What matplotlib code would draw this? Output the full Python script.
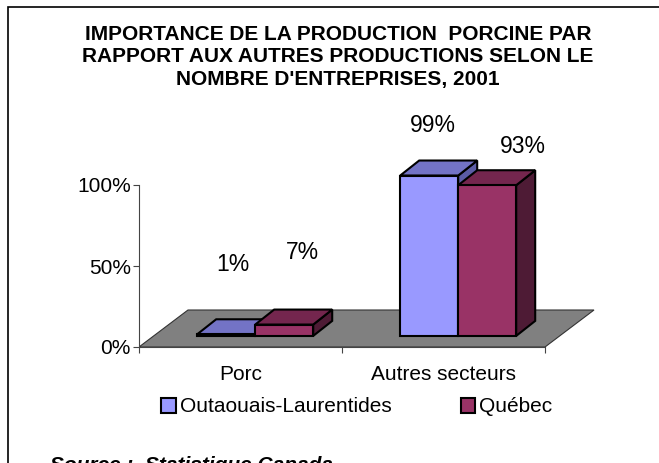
import matplotlib
matplotlib.use("Agg")
import matplotlib.pyplot as plt
from matplotlib.patches import Polygon, Rectangle, Patch

plt.rcParams['font.family'] = ['Liberation Sans', 'DejaVu Sans']

# Données
categories = ["Porc", "Autres secteurs"]
series = ["Outaouais-Laurentides", "Québec"]
outaouais = [1, 99]
quebec = [7, 93]
titre = ["IMPORTANCE DE LA PRODUCTION  PORCINE PAR",
         "RAPPORT AUX AUTRES PRODUCTIONS SELON LE",
         "NOMBRE D'ENTREPRISES, 2001"]
source = "Source :  Statistique Canada"

# Couleurs (face avant, dessus, côté)
couleurs = {
    "Outaouais-Laurentides": ("#9999FF", "#7373C6", "#5C5CA6"),
    "Québec": ("#993366", "#74264E", "#4E1B35"),
}

W, H = 659, 463
fig = plt.figure(figsize=(W / 100, H / 100), dpi=100)

# cadre du graphique (bords haut et gauche visibles)
fig.patches.append(Rectangle((8 / W, -0.1), 1.2, (H - 7) / H + 0.1, transform=fig.transFigure,
                             fill=False, edgecolor="black", linewidth=1.2))

# axes placés en pixels
px_x = 203.0   # pixels par catégorie
px_y = 1.62    # pixels par %
left, right, bottom, top = 139, 620, 347, 100
ax = fig.add_axes([left / W, (H - bottom) / H, (right - left) / W, (bottom - top) / H])
ax.set_xlim(0, (right - left) / px_x)
ax.set_ylim(0, (bottom - top) / px_y)
ax.patch.set_alpha(0)

# profondeur du plancher et des barres
fdx, fdy = 49 / px_x, 37 / px_y
bdx, bdy = 19 / px_x, 15 / px_y
f0 = 0.30
ox, oy = f0 * fdx, f0 * fdy
w = 58 / px_x

n = len(categories)
floor = Polygon([(0, 0), (n, 0), (n + fdx, fdy), (fdx, fdy)], closed=True,
                facecolor="#808080", edgecolor="#333333", linewidth=0.8, zorder=1)
ax.add_patch(floor)

# décalages des étiquettes (pixels) par rapport au dessus des barres
label_shift = {
    ("Outaouais-Laurentides", 0): (-2.5, 62), ("Québec", 0): (9, 65),
    ("Outaouais-Laurentides", 1): (-5.5, 43), ("Québec", 1): (26, 31),
}

z = 2
for i, cat in enumerate(categories):
    for j, (nom, vals) in enumerate(zip(series, [outaouais, quebec])):
        v = vals[i]
        x0 = i + 0.5 - w + j * w + ox
        front, topc, side = couleurs[nom]
        b = oy
        ax.add_patch(Polygon([(x0 + w, b), (x0 + w + bdx, b + bdy), (x0 + w + bdx, b + v + bdy), (x0 + w, b + v)],
                             closed=True, facecolor=side, edgecolor="black", linewidth=1.5, zorder=z))
        ax.add_patch(Polygon([(x0, b + v), (x0 + w, b + v), (x0 + w + bdx, b + v + bdy), (x0 + bdx, b + v + bdy)],
                             closed=True, facecolor=topc, edgecolor="black", linewidth=1.5, zorder=z + 1))
        ax.bar(x0, v, width=w, bottom=b, align="edge", color=front, edgecolor="black",
               linewidth=1.5, zorder=z + 2)
        z += 3
        sx, sy = label_shift[(nom, i)]
        ax.annotate(f"{v}%", xy=(x0 + w / 2 + bdx / 2, b + v + bdy / 2),
                    xytext=(sx * 0.72, sy * 0.72), textcoords="offset points",
                    ha="center", va="center", fontsize=16.5, zorder=50)

# axes
for s in ["top", "right"]:
    ax.spines[s].set_visible(False)
ax.spines["left"].set_bounds(0, 100)
ax.spines["bottom"].set_bounds(0, n)
ax.spines["left"].set_color("#444444")
ax.spines["bottom"].set_color("#444444")
ax.set_yticks([0, 50, 100])
ax.set_yticklabels(["0%", "50%", "100%"], fontsize=15)
ax.tick_params(axis="y", length=4, width=0.8, color="#444444", pad=2)
ax.set_xticks(range(n + 1))
ax.set_xticklabels([""] * (n + 1))
ax.tick_params(axis="x", which="major", length=4, width=0.8, color="#444444")
ax.set_xticks([k + 0.5 for k in range(n)], minor=True)
ax.set_xticklabels(categories, minor=True, fontsize=15)
ax.tick_params(axis="x", which="minor", length=0, pad=13)

# titre
for k, ligne in enumerate(titre):
    fig.text(338 / W, 1 - (34 + 22.5 * k) / H, ligne, ha="center", va="center",
             fontsize=15, fontweight="bold")

# légende
handles = [Patch(facecolor=couleurs[s][0], edgecolor="black", linewidth=1.5) for s in series]
fig.legend(handles, series, loc="center", bbox_to_anchor=(357 / W, 1 - 407 / H), ncol=2,
           frameon=False, fontsize=15, handlelength=0.7, handleheight=0.7,
           handletextpad=0.2, columnspacing=3.3)

# source (coupée par le bas de l'image, comme dans l'original)
fig.text(50 / W, 1 - 471 / H, source, ha="left", va="baseline", fontsize=15,
         fontweight="bold", fontstyle="italic")

fig.savefig("out.png", dpi=100)
